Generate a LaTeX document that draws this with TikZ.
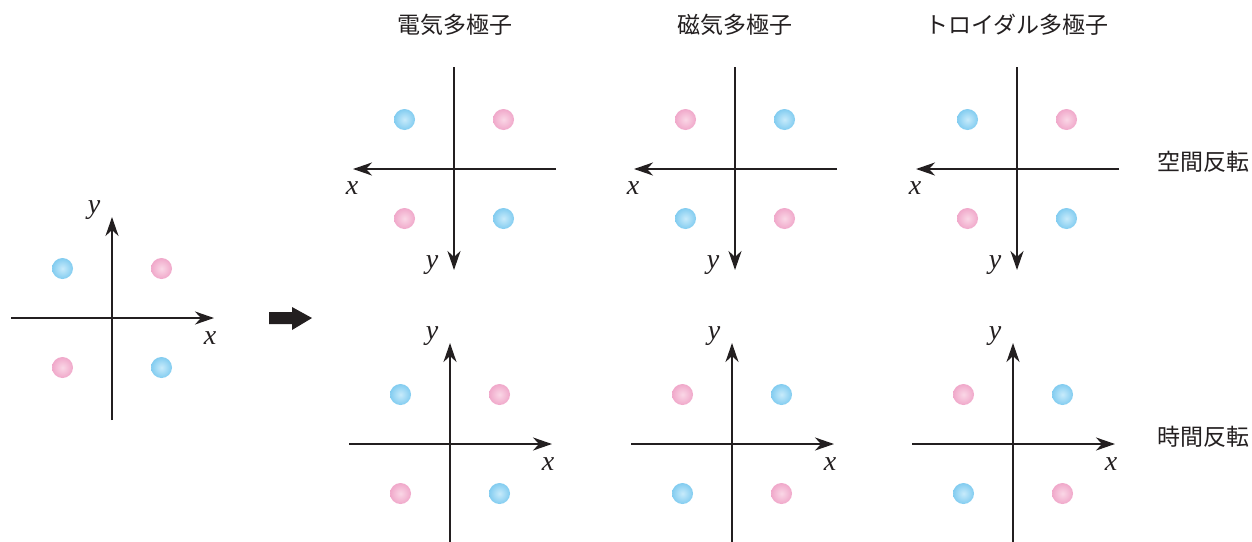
\documentclass[tikz,border=0pt]{standalone}
\usepackage{fontspec}
\newfontfamily\jpfont{Noto Sans CJK JP}
\newfontfamily\lblfont{Liberation Serif}
\usetikzlibrary{arrows.meta}
\definecolor{axiscol}{RGB}{35,31,32}
\definecolor{bluedot}{RGB}{130,204,240}
\definecolor{bluein}{RGB}{200,235,251}
\definecolor{pinkdot}{RGB}{240,168,202}
\definecolor{pinkin}{RGB}{250,215,230}
\definecolor{textcol}{RGB}{35,31,32}
\tikzset{
  axis/.style={line width=2.3pt, draw=axiscol, -{Stealth[length=19pt,width=13pt,inset=6pt]}},
  dotbase/.style={circle, minimum size=21pt, inner sep=0pt, draw=none, shading=radial},
  bdot/.style={dotbase, inner color=bluein, outer color=bluedot},
  pdot/.style={dotbase, inner color=pinkin, outer color=pinkdot},
  lbl/.style={inner sep=0pt, text=axiscol, font=\lblfont\itshape\fontsize{28}{28}\selectfont},
  jp/.style={inner sep=0pt, text=textcol, font=\jpfont\fontsize{23}{23}\selectfont},
}
\newcommand\mkpanel[6]{%
  \node[#5] (#1ul) at ({#2-49.5},{#3-49.5}) {};
  \node[#6] (#1ur) at ({#2+49.5},{#3-49.5}) {};
  \node[#6] (#1ll) at ({#2-49.5},{#3+49.5}) {};
  \node[#5] (#1lr) at ({#2+49.5},{#3+49.5}) {};
  \ifnum#4=1
    \coordinate (#1xa) at ({#2+102},#3);
    \coordinate (#1xb) at ({#2-101},#3);
    \coordinate (#1ya) at (#2,{#3-102});
    \coordinate (#1yb) at (#2,{#3+101});
    \node[lbl] (#1xl) at ({#2-102},{#3+19}) {x};
    \node[lbl] (#1yl) at ({#2-22},{#3+96}) {y};
  \else
    \coordinate (#1xa) at ({#2-101},#3);
    \coordinate (#1xb) at ({#2+102},#3);
    \coordinate (#1ya) at (#2,{#3+102});
    \coordinate (#1yb) at (#2,{#3-101});
    \node[lbl] (#1xl) at ({#2+98},{#3+20}) {x};
    \node[lbl] (#1yl) at ({#2-18},{#3-108}) {y};
  \fi
  \draw[axis] (#1xa) -- (#1xb);
  \draw[axis] (#1ya) -- (#1yb);
}
\begin{document}
\begin{tikzpicture}[x=1pt,y=-1pt]
\useasboundingbox (0,0) rectangle (1252,541);
% left original
\mkpanel{L}{112}{318}{0}{bdot}{pdot}
% big arrow
\fill[axiscol] (269,312) -- (292,312) -- (292,307) -- (312,318) -- (292,330) -- (292,324) -- (269,324) -- cycle;
% top row (space inversion)
\mkpanel{TA}{454}{169}{1}{bdot}{pdot}
\mkpanel{TB}{735}{169}{1}{pdot}{bdot}
\mkpanel{TC}{1017}{169}{1}{bdot}{pdot}
% bottom row (time reversal)
\mkpanel{BA}{450}{444}{0}{bdot}{pdot}
\mkpanel{BB}{732}{444}{0}{pdot}{bdot}
\mkpanel{BC}{1013}{444}{0}{pdot}{bdot}
% titles
\node[jp] (t1) at (455,25) {電気多極子};
\node[jp] (t2) at (735,25) {磁気多極子};
\node[jp] (t3) at (1017,25) {トロイダル多極子};
\node[jp] (r1) at (1203,162) {空間反転};
\node[jp] (r2) at (1203,437) {時間反転};
\end{tikzpicture}
\end{document}
